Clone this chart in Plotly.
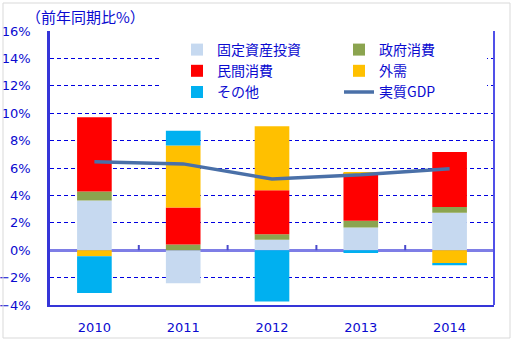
import plotly.graph_objects as go

years = ["2010", "2011", "2012", "2013", "2014"]
fixed_inv = [3.63, -2.42, 0.77, 1.66, 2.74]
gov_cons = [0.66, 0.42, 0.39, 0.49, 0.41]
priv_cons = [5.41, 2.70, 3.21, 3.48, 4.02]
external = [-0.45, 4.53, 4.67, 0.06, -0.94]
other = [-2.68, 1.07, -3.74, -0.20, -0.16]
real_gdp = [6.45, 6.3, 5.2, 5.5, 5.95]

names = ["固定資産投資", "政府消費", "民間消費", "外需", "その他", "実質GDP"]
colors = ["#C6D9F0", "#8BA44F", "#FF0000", "#FFC000", "#00B0F0", "#4A70A8"]

BLUE = "#0A0AD0"
FONT = "Noto Sans CJK JP"

W, H = 513, 341
L, R, T, B = 50, 19, 31, 36
pw, ph = W - L - R, H - T - B


def px(x):
    return (x - L) / pw


def py(y):
    return (H - B - y) / ph


fig = go.Figure()
series = [fixed_inv, gov_cons, priv_cons, external, other]
legend_ids = ["legend", "legend2", "legend", "legend2", "legend"]
for vals, name, col, lg in zip(series, names[:5], colors[:5], legend_ids):
    fig.add_trace(go.Bar(x=years, y=vals, name=name, marker_color=col,
                         marker_line_width=0, legend=lg))
fig.add_trace(go.Scatter(x=years, y=real_gdp, name=names[5], mode="lines",
                         line=dict(color=colors[5], width=3.5), legend="legend2"))

# white box behind legend (hides gridlines)
fig.add_shape(type="rect", xref="paper", yref="paper",
              x0=px(162), x1=px(487), y0=py(100), y1=py(36),
              fillcolor="white", line_width=0, layer="above")
# category ticks on zero line
for xv in [0.5, 1.5, 2.5, 3.5]:
    fig.add_shape(type="line", xref="x", yref="y", x0=xv, x1=xv, y0=0, y1=0.38,
                  line=dict(color="#4A4ACC", width=2))
# right border
fig.add_shape(type="line", xref="paper", yref="paper", x0=1, x1=1, y0=0, y1=1,
              line=dict(color="#5050E8", width=2))
# outer chart border
fig.add_shape(type="rect", xref="paper", yref="paper",
              x0=px(3), x1=px(510), y0=py(338), y1=py(3),
              line=dict(color="#D9D9D9", width=1), fillcolor="rgba(0,0,0,0)")

fig.add_annotation(text="（前年同期比%）", xref="paper", yref="paper",
                   x=px(24), y=py(16), xanchor="left", yanchor="middle",
                   showarrow=False, font=dict(family=FONT, size=15, color=BLUE))

leg_common = dict(orientation="v", bgcolor="rgba(0,0,0,0)", yanchor="top",
                  font=dict(family=FONT, size=14, color=BLUE),
                  tracegroupgap=0, itemwidth=30)
fig.update_layout(
    width=W, height=H,
    margin=dict(l=L, r=R, t=T, b=B, autoexpand=False),
    paper_bgcolor="white", plot_bgcolor="white",
    barmode="relative", bargap=0.61,
    showlegend=True,
    legend=dict(x=px(177), y=py(34), **leg_common),
    legend2=dict(x=px(339), y=py(34), **leg_common),
    xaxis=dict(type="category", showgrid=False, ticks="", automargin=False,
               showline=True, linecolor="#3535D8", linewidth=2,
               tickfont=dict(family="DejaVu Sans", size=13, color=BLUE),
               ticklabelstandoff=9),
    yaxis=dict(range=[-4, 16], dtick=2, ticksuffix="%", automargin=False,
               showgrid=True, gridcolor="#0000E0", gridwidth=1, griddash="4px,3px",
               zeroline=True, zerolinecolor="#7E7EE6", zerolinewidth=2.5,
               showline=True, linecolor="#3535D8", linewidth=2.5,
               ticks="",
               tickfont=dict(family="DejaVu Sans", size=13, color=BLUE),
               ticklabelstandoff=14),
)

fig.write_html("out.html")
